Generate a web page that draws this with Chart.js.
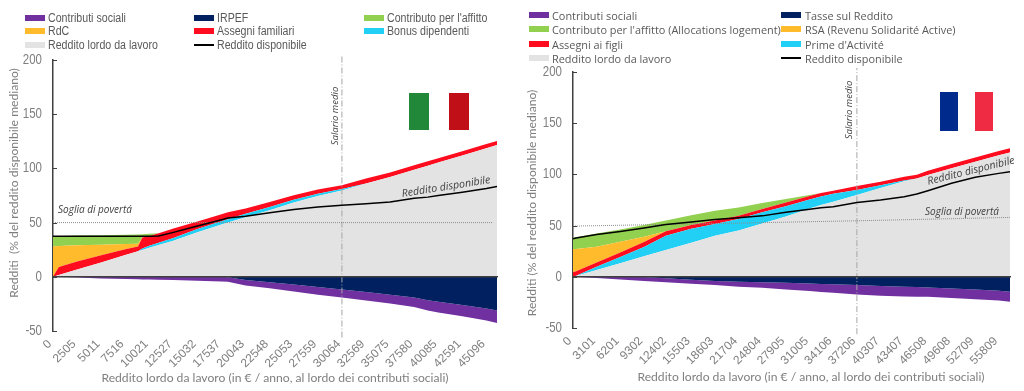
<!DOCTYPE html>
<html>
<head>
<meta charset="utf-8">
<script src="https://cdn.jsdelivr.net/npm/chart.js@4"></script>
<style>
  html, body { margin: 0; padding: 0; background: #fff; }
  #page { position: relative; width: 1024px; height: 391px; overflow: hidden; }
  canvas { position: absolute; top: 0; }
  .swatch { position: absolute; width: 20px; height: 6px; }
  .swatch.line { height: 2px; background: #000; }
  .label { position: absolute; color: #595959; white-space: nowrap; line-height: 14px; }
  .it { font: 12.5px "Liberation Sans", sans-serif; transform: scaleX(0.85); transform-origin: left center; }
  .fr { font: 10.9px "Open Sans", sans-serif; }
  .flag { position: absolute; }
</style>
</head>
<body>
<div id="page">
  <canvas id="chartIt" width="512" height="391" style="left:0"></canvas>
  <canvas id="chartFr" width="512" height="391" style="left:512px"></canvas>
</div>
<script>
// Italy
const itTicks = [0, 2505, 5011, 7516, 10021, 12527, 15032, 17537, 20043, 22548, 25053, 27559, 30064, 32569, 35075, 37580, 40085, 42591, 45096]
const itIncome = [0, 600, 2505, 5011, 7516, 8840, 9300, 10021, 11000, 12527, 15032, 17537, 18200, 20043, 22548, 25053, 27559, 30064, 32569, 35075, 37580, 39000, 40085, 42591, 45096, 46200]
const itGross = [0, 1.6, 6.7, 13.3, 20, 23.5, 24.7, 26.7, 29.3, 33.3, 41, 48.2, 50, 55, 61.5, 68.5, 74.5, 79.5, 86, 92, 98.7, 102.5, 105.4, 112, 118.7, 121.5]
const itBonus = [0, 0, 0, 0, 0, 0, 1.5, 2, 2, 2.5, 3, 3, 3.2, 3.2, 3, 2.5, 2, 1.5, 0, 0, 0, 0, 0, 0, 0, 0]
const itFamily = [0, 7.4, 7.5, 6.5, 5.3, 4.5, 10, 9, 8.8, 8.7, 7, 6.5, 6.3, 4.8, 4.5, 4.3, 4, 3.5, 4.6, 4.3, 4.1, 4, 3.9, 3.8, 3.7, 3.7]
const itRdc = [28, 19.5, 14.8, 9.7, 4.9, 2.5, 0, 0, 0, 0, 0, 0, 0, 0, 0, 0, 0, 0, 0, 0, 0, 0, 0, 0, 0, 0]
const itHousing = [9.5, 9, 9, 8.8, 8.6, 8.5, 3.1, 1.9, 0, 0, 0, 0, 0, 0, 0, 0, 0, 0, 0, 0, 0, 0, 0, 0, 0, 0]
const itTax = [0, 0, 0, 0, 0, 0, 0, 0, 0, 0, 0, 0, -0.3, -3, -5, -7.2, -9.5, -11.7, -14, -16.5, -19, -21.6, -23, -26, -29.3, -31]
const itContrib = [0, -0.1, -0.6, -1.5, -2, -2.3, -2.4, -2.5, -2.7, -3, -3.6, -4.3, -4.2, -5, -5.6, -6.3, -7, -7.3, -7.8, -8.2, -8.8, -9.4, -10, -10.5, -11, -11.6]
const itDisposable = [37.5, 37.5, 37.5, 37.5, 37.5, 37.5, 37.5, 37.5, 37.7, 41, 46.8, 52.7, 54.2, 55.8, 59, 62, 64.5, 66, 67.5, 69, 72.5, 73.5, 75, 78, 81.5, 83.3]
const itPovertyX = [0, 45800]
const itPoverty = [50, 50]
const itSalary = [30064, 30064]

// France
const frTicks = [0, 3101, 6201, 9302, 12402, 15503, 18603, 21704, 24804, 27905, 31005, 34106, 37206, 40307, 43407, 46508, 49608, 52709, 55809]
const frIncome = [0, 400, 3101, 6201, 9302, 12170, 15503, 18603, 21704, 24804, 27905, 31005, 32500, 34106, 37206, 40307, 43407, 45060, 46508, 49608, 52709, 55809, 57270]
const frGross = [0, 0.9, 6.7, 13.3, 20, 26.1, 33.3, 40, 45.3, 52, 59, 66.7, 70, 73.3, 80, 86.7, 93.4, 96, 99.3, 106, 112.3, 118.6, 121.4]
const frPrime = [0, 0.2, 3, 6, 9, 14, 13.7, 11.5, 11.1, 11, 10, 8.8, 8.5, 7.7, 4.8, 2.6, 0.6, 0, 0, 0, 0, 0, 0]
const frChild = [4.5, 4.2, 4.2, 4.5, 5, 4.5, 3.5, 3.5, 3.1, 3.2, 3.5, 3.3, 3.3, 3, 3.9, 3.6, 3.6, 3.6, 4.2, 4.2, 4.2, 4.2, 4.2]
const frRsa = [22.5, 21.8, 15.4, 10.4, 5, 0, 0, 0, 0, 0, 0, 0, 0, 0, 0, 0, 0, 0, 0, 0, 0, 0, 0]
const frHousing = [11.4, 11.6, 13, 12.1, 11.5, 10.4, 9.5, 9.6, 8.1, 5.8, 3.5, 1.2, 0, 0, 0, 0, 0, 0, 0, 0, 0, 0, 0]
const frTax = [0, 0, 0, 0, -0.3, -1.5, -3, -4.2, -4.8, -5.4, -5.9, -6.6, -7, -7.3, -8.1, -8.9, -9.6, -10, -10.4, -11.4, -12.5, -13.7, -14.7]
const frContrib = [0, -0.1, -1.2, -2.6, -3.7, -3.8, -3.7, -3.9, -4.8, -5.4, -6.5, -7.2, -7.8, -8.3, -9.2, -9.6, -9.7, -9.4, -9.2, -9.2, -9.4, -9.4, -9.7]
const frDisposable = [37.1, 37.8, 41.4, 44.3, 47.6, 51, 53.4, 56, 57.7, 59.5, 63, 66, 67.5, 68.5, 72.5, 75, 78.2, 80.8, 84, 91.3, 97.2, 101, 102.6]
const frPovertyX = [0, 18603, 37206, 57270]
const frPoverty = [49.5, 52, 54.7, 58]
const frSalary = [37206, 37206]

const salaryRange = [-56, 204]
const yTicks = [-50, 0, 50, 100, 150, 200]

const colors = {
  contrib: "#7030a0",
  tax: "#002060",
  housing: "#92d050",
  rsa: "#ffbb2c",
  family: "#ff0d1f",
  bonus: "#23d0f5",
  gross: "#e3e3e3",
}

const FONT_TITLE = 'Lato, sans-serif'

function points(xs, ys) {
  return xs.map((x, i) => ({ x: x, y: ys[i] }))
}

function area(name, xs, ys, color, fill, stack) {
  return {
    label: name,
    data: points(xs, ys),
    backgroundColor: color,
    borderWidth: 0,
    pointRadius: 0,
    fill: fill,
    stack: stack,
  }
}

// text and axis pieces that Chart.js has no option for
function overlayPlugin(cfg) {
  return {
    id: "overlay",
    afterDraw(chart) {
      const ctx = chart.ctx
      const x = chart.scales.x
      const y = chart.scales.y
      ctx.save()
      // zero line
      ctx.strokeStyle = "#404040"
      ctx.lineWidth = 1.5
      ctx.beginPath()
      ctx.moveTo(x.left, y.getPixelForValue(0))
      ctx.lineTo(x.right + 1, y.getPixelForValue(0))
      ctx.stroke()
      // inner y ticks, and their narrow labels
      ctx.lineWidth = 1
      yTicks.forEach((v) => {
        const py = Math.round(y.getPixelForValue(v)) + 0.5
        ctx.beginPath()
        ctx.moveTo(x.left, py)
        ctx.lineTo(x.left + 4, py)
        ctx.stroke()
        ctx.save()
        ctx.translate(x.left - 11, py)
        ctx.scale(0.82, 1)
        ctx.font = '14px "Liberation Sans", sans-serif'
        ctx.fillStyle = "#7f7f7f"
        ctx.textAlign = "right"
        ctx.textBaseline = "middle"
        ctx.fillText(String(v), 0, 0)
        ctx.restore()
      })
      cfg.notes.forEach((n) => {
        ctx.save()
        ctx.translate(n.x, n.y)
        ctx.rotate((n.rot * Math.PI) / 180)
        ctx.font = n.font
        ctx.fillStyle = n.color
        ctx.textAlign = "center"
        ctx.textBaseline = "middle"
        ctx.fillText(n.text, 0, 0)
        ctx.restore()
      })
      ctx.restore()
    },
  }
}

function makeChart(id, cfg) {
  const xs = cfg.income
  new Chart(document.getElementById(id), {
    type: "line",
    data: {
      datasets: [
        { label: "Reddito disponibile", data: points(xs, cfg.disposable), borderColor: "#000", borderWidth: 1.5, pointRadius: 0, fill: false, stack: "disp" },
        { label: "Soglia di povertà", data: points(cfg.povertyX, cfg.poverty), borderColor: "#8c8c8c", borderWidth: 1, borderDash: [1, 1], pointRadius: 0, fill: false, stack: "pov" },
        { label: "Salario medio", data: points(cfg.salary, salaryRange), borderColor: "#a6a6a6", borderWidth: 1, borderDash: [6, 2, 1, 2], pointRadius: 0, fill: false, stack: "sal", clip: false },
        area("Reddito lordo da lavoro", xs, cfg.gross, colors.gross, "origin", "pos"),
        area(cfg.names.bonus, xs, cfg.bonus, colors.bonus, "-1", "pos"),
        area(cfg.names.family, xs, cfg.family, colors.family, "-1", "pos"),
        area(cfg.names.rsa, xs, cfg.rsa, colors.rsa, "-1", "pos"),
        area(cfg.names.housing, xs, cfg.housing, colors.housing, "-1", "pos"),
        area(cfg.names.tax, xs, cfg.tax, colors.tax, "origin", "neg"),
        area("Contributi sociali", xs, cfg.contrib, colors.contrib, "-1", "neg"),
      ],
    },
    options: {
      responsive: false,
      animation: false,
      layout: { padding: { top: cfg.top, right: 512 - cfg.right, left: 0, bottom: 0 } },
      plugins: { legend: { display: false }, tooltip: { enabled: false } },
      elements: { line: { tension: 0 } },
      scales: {
        x: {
          type: "linear",
          min: 0,
          max: cfg.xMax,
          grid: { display: false },
          border: { display: false },
          afterBuildTicks(axis) {
            axis.ticks = cfg.ticks.map((v) => ({ value: v }))
          },
          afterFit(axis) {
            axis.height = 391 - cfg.bottom
          },
          ticks: {
            minRotation: 45,
            maxRotation: 45,
            autoSkip: false,
            padding: -2,
            labelOffset: -3,
            color: "#7f7f7f",
            font: { family: '"Liberation Sans", sans-serif', size: 12 },
            callback: (v) => String(v),
          },
        },
        y: {
          stacked: true,
          min: -50,
          max: 200,
          grid: { display: false, drawTicks: false },
          border: { color: "#404040", width: 1.5 },
          afterFit(axis) {
            axis.width = cfg.left
          },
          afterBuildTicks(axis) {
            axis.ticks = yTicks.map((v) => ({ value: v }))
          },
          ticks: { display: false },
        },
      },
    },
    plugins: [overlayPlugin(cfg)],
  })
}

const noteItalic = 'italic 10px "Open Sans", sans-serif'
const noteItalicWide = 'italic 10.6px "Open Sans", sans-serif'
const noteItalicThin = 'italic 9.6px "Open Sans", sans-serif'
const titleFont = "12.15px " + FONT_TITLE

makeChart("chartIt", {
  ticks: itTicks, income: itIncome, gross: itGross, bonus: itBonus, family: itFamily, rsa: itRdc,
  housing: itHousing, tax: itTax, contrib: itContrib, disposable: itDisposable,
  povertyX: itPovertyX, poverty: itPoverty, salary: itSalary,
  xMax: 46200, left: 53, right: 497, top: 60, bottom: 331,
  names: { bonus: "Bonus dipendenti", family: "Assegni familiari", rsa: "RdC", housing: "Contributo per l'affitto", tax: "IRPEF" },
  notes: [
    { text: "Redditi  (% del reddito disponibile mediano)", x: 14, y: 183, rot: -90, font: titleFont, color: "#7f7f7f" },
    { text: "Reddito lordo da lavoro (in € / anno, al lordo dei contributi sociali)", x: 275, y: 378, rot: 0, font: titleFont, color: "#7f7f7f" },
    { text: "Salario medio", x: 335, y: 116, rot: -90, font: noteItalicThin, color: "#404040" },
    { text: "Soglia di povertá", x: 95, y: 210, rot: 0, font: noteItalic, color: "#404040" },
    { text: "Reddito disponibile", x: 446, y: 187, rot: -9, font: noteItalicWide, color: "#404040" },
  ],
})

makeChart("chartFr", {
  ticks: frTicks, income: frIncome, gross: frGross, bonus: frPrime, family: frChild, rsa: frRsa,
  housing: frHousing, tax: frTax, contrib: frContrib, disposable: frDisposable,
  povertyX: frPovertyX, poverty: frPoverty, salary: frSalary,
  xMax: 57270, left: 61, right: 498, top: 72, bottom: 328,
  names: { bonus: "Prime d'Activité", family: "Assegni ai figli", rsa: "RSA (Revenu Solidarité Active)", housing: "Contributo per l'affitto (Allocations logement)", tax: "Tasse sul Reddito" },
  notes: [
    { text: "Redditi (% del reddito disponibile mediano)", x: 20, y: 203, rot: -90, font: titleFont, color: "#7f7f7f" },
    { text: "Reddito lordo da lavoro (in € / anno, al lordo dei contributi sociali)", x: 299, y: 377, rot: 0, font: titleFont, color: "#7f7f7f" },
    { text: "Salario medio", x: 337, y: 110, rot: -90, font: noteItalicThin, color: "#404040" },
    { text: "Soglia di povertá", x: 450, y: 212, rot: 0, font: noteItalic, color: "#404040" },
    { text: "Reddito disponibile", x: 459, y: 171, rot: -14, font: noteItalicWide, color: "#404040" },
  ],
})

// legends and flags sit in plain html around the two charts
function addLegend(cls, rows, swatchXs, textXs, rowYs) {
  const page = document.getElementById("page")
  rows.forEach((item) => {
    const y = rowYs[item.row]
    const sw = document.createElement("div")
    sw.className = item.line ? "swatch line" : "swatch"
    sw.style.left = swatchXs[item.col] + "px"
    sw.style.top = y - (item.line ? 1 : 3) + "px"
    if (!item.line) sw.style.background = item.color
    page.appendChild(sw)
    const tx = document.createElement("div")
    tx.className = "label " + cls
    tx.textContent = item.text
    tx.style.left = textXs[item.col] + "px"
    tx.style.top = y - 7 + "px"
    page.appendChild(tx)
  })
}

addLegend("it", [
  { text: "Contributi sociali", color: colors.contrib, col: 0, row: 0 },
  { text: "IRPEF", color: colors.tax, col: 1, row: 0 },
  { text: "Contributo per l'affitto", color: colors.housing, col: 2, row: 0 },
  { text: "RdC", color: colors.rsa, col: 0, row: 1 },
  { text: "Assegni familiari", color: colors.family, col: 1, row: 1 },
  { text: "Bonus dipendenti", color: colors.bonus, col: 2, row: 1 },
  { text: "Reddito lordo da lavoro", color: colors.gross, col: 0, row: 2 },
  { text: "Reddito disponibile", line: true, col: 1, row: 2 },
], [25, 194, 364], [48, 217, 387], [18, 31, 45])

addLegend("fr", [
  { text: "Contributi sociali", color: colors.contrib, col: 0, row: 0 },
  { text: "Tasse sul Reddito", color: colors.tax, col: 1, row: 0 },
  { text: "Contributo per l'affitto (Allocations logement)", color: colors.housing, col: 0, row: 1 },
  { text: "RSA (Revenu Solidarité Active)", color: colors.rsa, col: 1, row: 1 },
  { text: "Assegni ai figli", color: colors.family, col: 0, row: 2 },
  { text: "Prime d'Activité", color: colors.bonus, col: 1, row: 2 },
  { text: "Reddito lordo da lavoro", color: colors.gross, col: 0, row: 3 },
  { text: "Reddito disponibile", line: true, col: 1, row: 3 },
], [529, 781], [552, 805], [15, 29, 43.5, 58])

function addFlag(left, top, width, height, color) {
  const d = document.createElement("div")
  d.className = "flag"
  d.style.cssText = `left:${left}px;top:${top}px;width:${width}px;height:${height}px;background:${color}`
  document.getElementById("page").appendChild(d)
}
addFlag(409, 93, 20, 37, "#218739")
addFlag(449, 93, 20, 37, "#c00f17")
addFlag(940, 92, 18, 39, "#002a8c")
addFlag(975, 92, 18, 39, "#ee2b42")
</script>
</body>
</html>
